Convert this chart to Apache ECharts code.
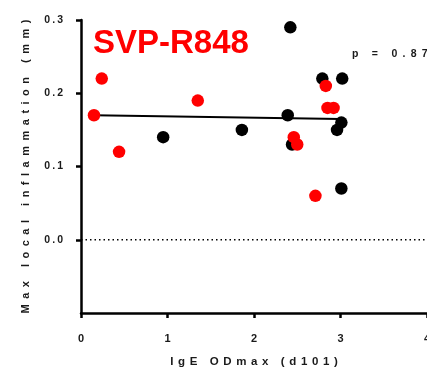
<!DOCTYPE html>
<html>
<head>
<meta charset="utf-8">
<script src="https://cdn.jsdelivr.net/npm/echarts@6/dist/echarts.min.js"></script>
<style>
  html, body { margin: 0; padding: 0; background: #fff; }
  #chart { width: 427px; height: 374px; }
</style>
</head>
<body>
<div id="chart"></div>
<script>
// IgE ODmax (d101) vs max local inflammation, two animal groups
const blackX = [0.95, 1.86, 2.42, 2.39, 2.44, 2.79, 3.02, 3.01, 2.96, 3.01];
const blackY = [0.14, 0.15, 0.29, 0.17, 0.13, 0.22, 0.22, 0.16, 0.15, 0.07];
const redX = [0.15, 0.24, 0.44, 1.35, 2.83, 2.85, 2.92, 2.46, 2.50, 2.71];
const redY = [0.17, 0.22, 0.12, 0.19, 0.21, 0.18, 0.18, 0.14, 0.13, 0.06];
// regression line endpoints
const fitX = [0.15, 3.0];
const fitY = [0.170, 0.165];
// dotted reference line at zero
const zeroX = [0, 4];
const zeroY = [0, 0];
const yTicks = [0, 0.1, 0.2, 0.3];
const xTicks = [0, 1, 2, 3, 4];
const titleText = 'SVP-R848';
const pText = 'p = 0.87';
const xName = 'IgE ODmax (d101)';
const yName = 'Max local inflammation (mm)';

// wide tracking for the labels
const spaced = (s, sep) => s.split('').join(sep);
const pairs = (xs, ys) => xs.map((x, i) => [x, ys[i]]);

const chart = echarts.init(document.getElementById('chart'), null, { renderer: 'canvas' });
const font = '"Liberation Sans", Arial, sans-serif';
const textGray = '#1a1a1a';

chart.setOption({
  animation: false,
  backgroundColor: '#fff',
  title: [
    {
      text: titleText, left: 93, top: 27, padding: 0,
      textStyle: { color: '#ff0000', fontSize: 33, fontWeight: 'bold', fontFamily: font }
    },
    {
      text: spaced(pText, '\u2002'), left: 352, top: 49, padding: 0,
      textStyle: { color: textGray, fontSize: 10.5, fontWeight: 'bold', fontFamily: font }
    }
  ],
  grid: { left: 81, right: 0, top: 20, bottom: 61, containLabel: false, outerBoundsMode: 'none' },
  xAxis: {
    type: 'value', min: 0, max: 4, interval: 1,
    name: spaced(xName, '\u2009\u2009'), nameLocation: 'middle', nameGap: 43,
    nameTextStyle: { color: textGray, fontSize: 11.5, fontWeight: 'bold', fontFamily: font },
    axisLine: { show: true, onZero: false, lineStyle: { color: '#000', width: 2.5 } },
    axisTick: { show: true, length: 5, lineStyle: { color: '#000', width: 2.5 }, customValues: xTicks },
    axisLabel: { color: textGray, fontSize: 11, fontWeight: 'bold', fontFamily: font, margin: 20, customValues: xTicks },
    splitLine: { show: false }
  },
  yAxis: {
    type: 'value', min: -0.1, max: 0.3, interval: 0.1,
    name: spaced(yName, '\u2002'), nameLocation: 'middle', nameGap: 50,
    nameTextStyle: { color: textGray, fontSize: 11, fontWeight: 'bold', fontFamily: font },
    axisLine: { show: true, onZero: false, lineStyle: { color: '#000', width: 2.5 } },
    axisTick: { show: true, length: 5, lineStyle: { color: '#000', width: 2.5 }, customValues: yTicks },
    axisLabel: {
      color: textGray, fontSize: 10.5, fontWeight: 'bold', fontFamily: font, margin: 18,
      customValues: yTicks,
      formatter: v => spaced(v.toFixed(1), '\u2009')
    },
    splitLine: { show: false }
  },
  series: [
    {
      type: 'line', data: pairs(zeroX, zeroY), showSymbol: false, symbol: 'none',
      lineStyle: { color: '#000', type: [1.5, 3], width: 1.5 }, z: 1
    },
    {
      type: 'line', data: pairs(fitX, fitY), showSymbol: false, symbol: 'none',
      lineStyle: { color: '#000', width: 2 }, z: 2
    },
    {
      type: 'scatter', data: pairs(blackX, blackY), symbolSize: 12.5,
      itemStyle: { color: '#000', opacity: 1 }, z: 3
    },
    {
      type: 'scatter', data: pairs(redX, redY), symbolSize: 12.5,
      itemStyle: { color: '#ff0000', opacity: 1 }, z: 4
    }
  ]
});
</script>
</body>
</html>
